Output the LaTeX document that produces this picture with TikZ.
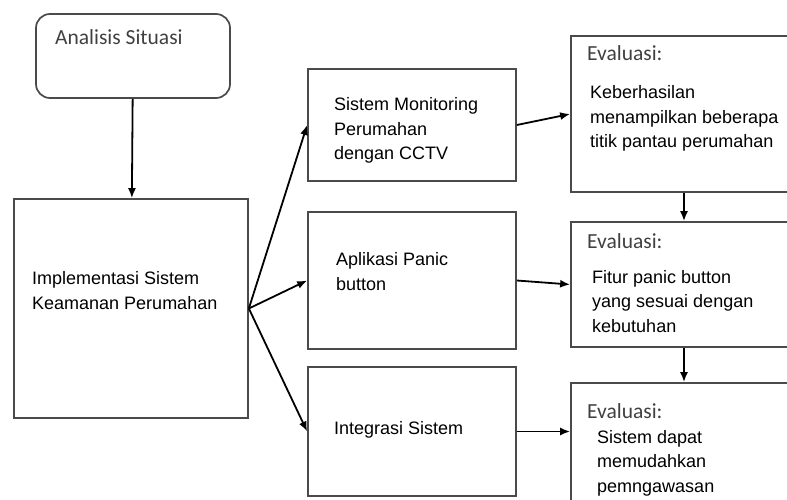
\documentclass[tikz,border=0pt]{standalone}
\usepackage{fontspec}
\setmainfont{Liberation Sans}
\newfontfamily\calibri{Carlito}
\usepackage{tikz}
\usetikzlibrary{arrows.meta}
\definecolor{boxgray}{HTML}{4A4A4A}
\definecolor{txtgray}{HTML}{404040}

\begin{document}
\begin{tikzpicture}[x=1pt,y=-1pt,
    kotak/.style={draw=boxgray,line width=1.7pt,inner sep=0pt},
    teks/.style={anchor=base west,align=left,inner sep=0pt,font=\fontsize{18}{24.5}\selectfont},
    judul/.style={anchor=base west,inner sep=0pt,text=txtgray,font=\calibri\fontsize{21.5}{26}\selectfont},
    panah/.style={-{Latex[length=10pt,width=8pt]},line width=1.8pt}]
        \useasboundingbox (0,0) rectangle (787,500);
        \clip (0,0) rectangle (787,500);
        % kotak
        \node [kotak,rounded corners=14pt,minimum width=194pt,minimum height=84pt] (analisis) at (133,56) {};
        \node [kotak,minimum width=234pt,minimum height=219pt] (impl) at (131,308.5) {};
        \node [kotak,minimum width=208pt,minimum height=112pt] (cctv) at (412,125) {};
        \node [kotak,minimum width=208pt,minimum height=137pt] (panic) at (412,280.5) {};
        \node [kotak,minimum width=208pt,minimum height=129pt] (integ) at (412,431.5) {};
        \node [kotak,minimum width=226pt,minimum height=156pt] (eval1) at (684,114) {};
        \node [kotak,minimum width=226pt,minimum height=125pt] (eval2) at (684,284.5) {};
        \node [kotak,minimum width=226pt,minimum height=157pt] (eval3) at (684,461.5) {};
        % teks (base = baris terakhir)
        \node [judul] (tAnalisis) at (55,45) {Analisis Situasi};
        \node [teks] (tImpl) at (32,309) {Implementasi Sistem\\Keamanan Perumahan};
        \node [teks] (tCctv) at (334,160) {Sistem Monitoring\\Perumahan\\dengan CCTV};
        \node [teks] (tPanic) at (336,290) {Aplikasi Panic\\button};
        \node [teks] (tInteg) at (334,434) {Integrasi Sistem};
        \node [judul] (tEval1) at (587,61) {Evaluasi:};
        \node [teks] (tHasil1) at (590,148) {Keberhasilan\\menampilkan beberapa\\titik pantau perumahan};
        \node [judul] (tEval2) at (587,248) {Evaluasi:};
        \node [teks] (tHasil2) at (592,332) {Fitur panic button\\yang sesuai dengan\\kebutuhan};
        \node [judul] (tEval3) at (587,418) {Evaluasi:};
        \node [teks] (tHasil3) at (597,492) {Sistem dapat\\memudahkan\\pemngawasan};
        % panah
        \draw [panah] (analisis) -- (impl);
        \draw [panah] (impl.east) -- (cctv.west);
        \draw [panah] (impl.east) -- (panic.west);
        \draw [panah] (impl.east) -- (integ.west);
        \draw [panah] (cctv.east) -- (eval1.west);
        \draw [panah] (panic.east) -- (eval2.west);
        \draw [panah] (integ.east) -- (integ.east -| eval3.west);
        \draw [panah] (eval1) -- (eval2);
        \draw [panah] (eval2) -- (eval3);
      \end{tikzpicture}
\end{document}
